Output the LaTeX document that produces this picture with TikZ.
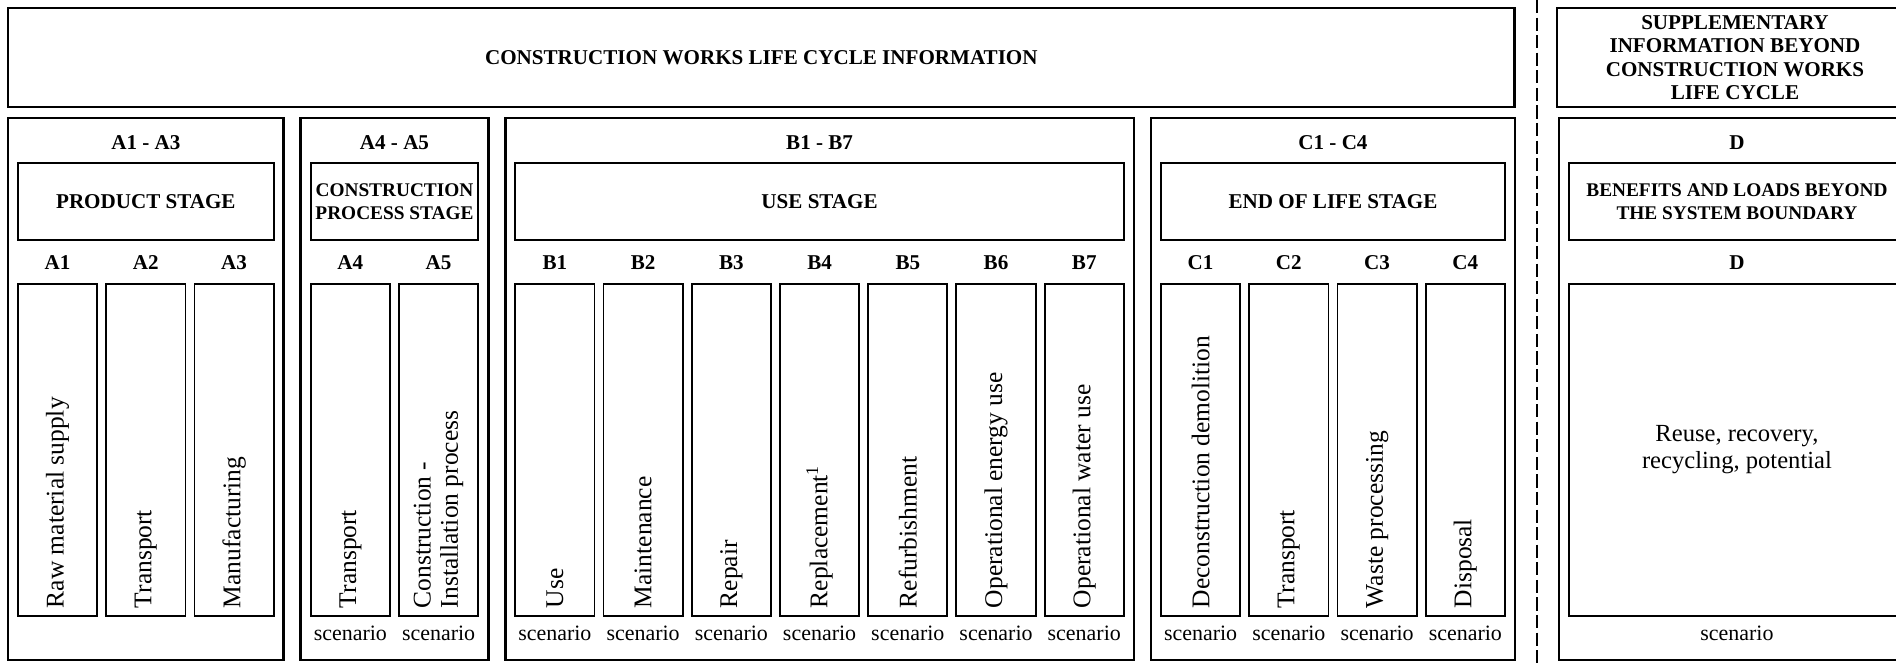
\documentclass[tikz,border=0pt]{standalone}
\usepackage{fontspec}
\setmainfont{Liberation Serif}
\usetikzlibrary{positioning}

\tikzset{
    infobox/.style={draw, line width=1.5pt, anchor=north west, inner sep=0pt, outer sep=0pt, align=center, minimum height=1.98cm, font=\bfseries\fontsize{12}{13.4}\selectfont},
    panel/.style={draw, line width=1.5pt, anchor=north west, outer sep=0pt, minimum height=10.84cm},
    stagebox/.style={draw, line width=1.1pt, anchor=north west, inner sep=0pt, outer sep=0pt, align=center, minimum height=1.54cm, font=\bfseries\fontsize{12}{13}\selectfont},
    smallcaps/.style={font=\bfseries\fontsize{11}{13}\selectfont},
    modbox/.style={draw, line width=1.1pt, anchor=north west, outer sep=0pt, minimum width=1.585cm, minimum height=6.64cm},
    modtag/.style={font=\bfseries\fontsize{12}{13}\selectfont},
    vlabel/.style={rotate=90, anchor=west, align=left, inner sep=0pt, font=\fontsize{14.5}{15.5}\selectfont},
    scen/.style={font=\fontsize{12.5}{13}\selectfont},
    boundary/.style={line width=0.9pt, dash pattern=on 7.5pt off 2.5pt}
}

\begin{document}
\begin{tikzpicture}[x=0.02cm, y=-0.02cm]
    \useasboundingbox (0,0) rectangle (1896,664);
    \clip (0,0) rectangle (1896,664);

    \node[infobox, minimum width=30.14cm] (cwlc) at (8,8) {CONSTRUCTION WORKS LIFE CYCLE INFORMATION};
    \node[infobox, minimum width=7.12cm] (supp) at (1557,8) {SUPPLEMENTARY\\INFORMATION BEYOND\\CONSTRUCTION WORKS\\LIFE CYCLE};

    \coordinate (sep_top) at (1537,0);
    \coordinate (sep_bot) at (1537,664);
    \draw[boundary] (sep_top) -- (sep_bot);

    \node[panel, minimum width=5.515cm] (pA13) at (8,118) {};
    \node[panel, minimum width=3.75cm] (pA45) at (300.75,118) {};
    \node[panel, minimum width=12.575cm] (pB) at (505.25,118) {};
    \node[panel, minimum width=7.28cm] (pC) at (1151,118) {};
    \node[panel, minimum width=7.12cm] (pD) at (1559,118) {};

    \node[modtag] at ([yshift=-0.5cm]pA13.north) {A1 - A3};
    \node[modtag] at ([yshift=-0.5cm]pA45.north) {A4 - A5};
    \node[modtag] at ([yshift=-0.5cm]pB.north) {B1 - B7};
    \node[modtag] at ([yshift=-0.5cm]pC.north) {C1 - C4};
    \node[modtag] at ([yshift=-0.5cm]pD.north) {D};

    \node[stagebox, minimum width=5.115cm] (sA13) at (18,163) {PRODUCT STAGE};
    \node[stagebox, smallcaps, minimum width=3.35cm] (sA45) at (310.75,163) {CONSTRUCTION\\PROCESS STAGE};
    \node[stagebox, minimum width=12.175cm] (sB) at (515.25,163) {USE STAGE};
    \node[stagebox, minimum width=6.88cm] (sC) at (1161,163) {END OF LIFE STAGE};
    \node[stagebox, smallcaps, minimum width=6.72cm] (sD) at (1569,163) {BENEFITS AND LOADS BEYOND\\THE SYSTEM BOUNDARY};

    \node[modbox] (A1) at (18,284) {};
    \node[modbox, right=0.18cm of A1] (A2) {};
    \node[modbox, right=0.18cm of A2] (A3) {};
    \node[modbox] (A4) at (310.75,284) {};
    \node[modbox, right=0.18cm of A4] (A5) {};
    \node[modbox] (B1) at (515.25,284) {};
    \node[modbox, right=0.18cm of B1] (B2) {};
    \node[modbox, right=0.18cm of B2] (B3) {};
    \node[modbox, right=0.18cm of B3] (B4) {};
    \node[modbox, right=0.18cm of B4] (B5) {};
    \node[modbox, right=0.18cm of B5] (B6) {};
    \node[modbox, right=0.18cm of B6] (B7) {};
    \node[modbox] (C1) at (1161,284) {};
    \node[modbox, right=0.18cm of C1] (C2) {};
    \node[modbox, right=0.18cm of C2] (C3) {};
    \node[modbox, right=0.18cm of C3] (C4) {};
    \node[modbox, minimum width=6.72cm] (D) at (1569,284) {};

    \foreach \m in {A1,A2,A3,A4,A5,B1,B2,B3,B4,B5,B6,B7,C1,C2,C3,C4,D}
        \node[modtag] at ([yshift=0.42cm]\m.north) {\m};

    \node[vlabel] at ([yshift=0.15cm]A1.south) {Raw material supply};
    \node[vlabel] at ([yshift=0.15cm]A2.south) {Transport};
    \node[vlabel] at ([yshift=0.15cm]A3.south) {Manufacturing};
    \node[vlabel] at ([yshift=0.15cm]A4.south) {Transport};
    \node[vlabel] at ([yshift=0.15cm]A5.south) {Construction -\\Installation process};
    \node[vlabel] at ([yshift=0.15cm]B1.south) {Use};
    \node[vlabel] at ([yshift=0.15cm]B2.south) {Maintenance};
    \node[vlabel] at ([yshift=0.15cm]B3.south) {Repair};
    \node[vlabel] at ([yshift=0.15cm]B4.south) {Replacement\textsuperscript{1}};
    \node[vlabel] at ([yshift=0.15cm]B5.south) {Refurbishment};
    \node[vlabel] at ([yshift=0.15cm]B6.south) {Operational energy use};
    \node[vlabel] at ([yshift=0.15cm]B7.south) {Operational water use};
    \node[vlabel] at ([yshift=0.15cm]C1.south) {Deconstruction demolition};
    \node[vlabel] at ([yshift=0.15cm]C2.south) {Transport};
    \node[vlabel] at ([yshift=0.15cm]C3.south) {Waste processing};
    \node[vlabel] at ([yshift=0.15cm]C4.south) {Disposal};
    \node[font=\fontsize{14}{15.3}\selectfont, align=center] (reuse) at (D) {Reuse, recovery,\\recycling, potential};

    \foreach \m in {A4,A5,B1,B2,B3,B4,B5,B6,B7,C1,C2,C3,C4,D}
        \node[scen] at ([yshift=-0.34cm]\m.south) {scenario};
\end{tikzpicture}
\end{document}
